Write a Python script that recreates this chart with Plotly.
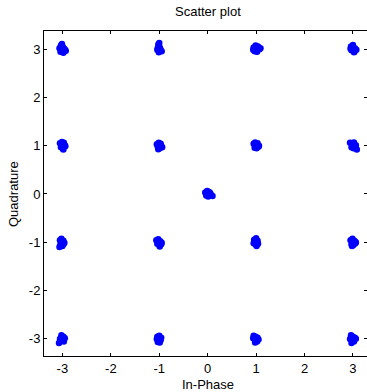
import plotly.graph_objects as go

# Received symbols, grouped by constellation row (in-phase, quadrature)
i_row_p3 = [-3.06,-3.03,-2.99,-2.95,-3.04,-2.98,-2.93,-3.01,-2.96,
            -1.02,-0.99,-1.04,-0.97,-1.01,-0.95,-1.03,-0.98,-1.00,
            0.95,0.99,1.04,1.07,0.97,1.02,1.09,1.00,0.94,
            2.96,3.00,3.04,2.97,3.03,3.07,2.99,2.95,3.02]
q_row_p3 = [3.02,3.08,3.05,2.99,2.95,2.93,2.97,3.11,3.01,
            3.10,3.04,2.99,2.97,2.94,2.96,3.03,3.01,3.13,
            3.04,3.08,3.06,3.00,2.96,2.95,3.02,3.01,2.99,
            3.06,3.09,3.02,2.98,2.95,2.99,3.04,3.01,2.94]

i_row_p1 = [-3.05,-3.01,-2.97,-2.94,-3.03,-2.99,-2.95,-3.02,-2.98,
            -1.05,-1.01,-0.97,-1.03,-0.99,-0.94,-0.96,-1.02,-1.00,
            0.95,0.98,1.03,1.06,0.97,1.01,1.05,0.99,1.02,
            2.94,2.98,3.02,3.06,2.97,3.01,3.05,3.08,2.99]
q_row_p1 = [1.05,1.08,1.06,0.99,0.97,0.94,1.01,1.02,0.92,
            1.03,1.06,1.04,0.98,0.95,0.97,1.00,0.93,1.01,
            1.04,1.07,1.05,1.00,0.96,0.95,0.98,1.02,0.99,
            1.06,1.03,1.07,1.01,0.97,0.95,0.98,0.92,1.00]

i_center = [-0.05,-0.01,0.03,0.06,-0.03,0.01,0.04,0.10,0.00,-0.02,0.05]
q_center = [0.03,0.06,0.04,0.00,-0.03,-0.05,-0.02,-0.04,0.01,-0.01,0.02]

i_row_m1 = [-3.05,-3.02,-2.98,-2.96,-3.04,-3.00,-3.06,-2.97,-3.01,
            -1.06,-1.02,-0.98,-0.95,-1.04,-1.00,-0.96,-0.99,-1.03,
            0.96,1.00,1.03,0.95,0.99,1.04,1.01,0.97,1.02,
            2.95,2.99,3.03,3.06,2.97,3.01,3.05,2.98,3.02]
q_row_m1 = [-0.96,-0.93,-0.97,-1.01,-1.04,-1.08,-1.10,-1.03,-1.00,
            -0.96,-0.94,-0.98,-1.01,-1.03,-1.06,-1.04,-1.09,-1.00,
            -0.95,-0.92,-0.97,-1.02,-1.05,-1.03,-1.08,-1.00,-0.99,
            -0.96,-0.93,-0.97,-1.00,-1.04,-1.06,-1.02,-1.08,-1.01]

i_row_m3 = [-3.02,-2.98,-2.95,-3.05,-3.01,-2.97,-3.07,-3.03,-2.99,
            -1.04,-1.00,-0.96,-1.05,-1.01,-0.97,-1.03,-0.99,-1.02,
            0.95,0.99,1.03,0.97,1.01,1.05,0.98,1.02,0.94,
            2.96,3.00,3.04,2.94,2.98,3.02,3.06,2.97,3.01]
q_row_m3 = [-2.93,-2.96,-2.99,-3.01,-3.03,-3.06,-3.09,-2.98,-3.00,
            -2.96,-2.94,-2.98,-3.01,-3.04,-3.03,-3.07,-3.08,-3.00,
            -2.94,-2.96,-2.98,-3.01,-3.04,-3.02,-3.08,-3.06,-2.99,
            -2.93,-2.96,-2.98,-3.01,-3.03,-3.06,-3.00,-3.09,-3.04]

tick_vals = [-3, -2, -1, 0, 1, 2, 3]
tick_text = ["-3", "-2", "-1", "0", "1", "2", "3"]

in_phase = i_row_p3 + i_row_p1 + i_center + i_row_m1 + i_row_m3
quadrature = q_row_p3 + q_row_p1 + q_center + q_row_m1 + q_row_m3

W, H = 367, 392
L, R, T, B = 44, 0, 31, 36
pw, ph = W - L - R, H - T - B

fig = go.Figure(go.Scatter(
    x=in_phase, y=quadrature, mode="markers",
    marker=dict(color="#0000ff", size=6.5, line=dict(width=0)),
    hoverinfo="x+y", showlegend=False))

font = dict(family="Liberation Sans, Arial, sans-serif", size=13, color="black")
axis_common = dict(
    showgrid=False, zeroline=False, showline=True, linecolor="black", linewidth=1,
    mirror="ticks", ticks="inside", ticklen=3, tickcolor="black", tickwidth=1,
    tickvals=tick_vals, ticktext=tick_text, tickfont=font)

fig.update_layout(
    width=W, height=H,
    margin=dict(l=L, r=R, t=T, b=B, pad=0),
    paper_bgcolor="white", plot_bgcolor="white",
    font=font,
    xaxis=dict(range=[-3.38, 3.29], **axis_common),
    yaxis=dict(range=[-3.36, 3.38], **axis_common),
    annotations=[
        dict(text="Scatter plot", xref="paper", yref="paper",
             x=(208 - L) / pw, y=1 + (T - 12) / ph, xanchor="center", yanchor="middle",
             showarrow=False, font=font),
        dict(text="In-Phase", xref="paper", yref="paper",
             x=(208 - L) / pw, y=-(384 - (T + ph)) / ph, xanchor="center", yanchor="middle",
             showarrow=False, font=font),
        dict(text="Quadrature", xref="paper", yref="paper", textangle=-90,
             x=(14 - L) / pw, y=(T + ph - 194) / ph, xanchor="center", yanchor="middle",
             showarrow=False, font=font),
    ],
)

fig.write_html("out.html", config={"displayModeBar": False},
               post_script="document.body.style.margin='0';document.body.style.overflow='hidden';")
